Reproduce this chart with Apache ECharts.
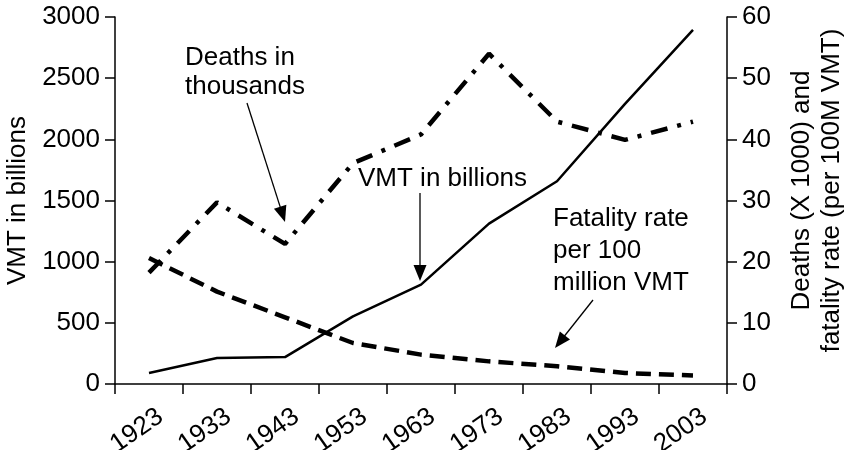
<!DOCTYPE html>
<html><head><meta charset="utf-8">
<script src="https://cdn.jsdelivr.net/npm/echarts@6/dist/echarts.min.js"></script>
<style>html,body{margin:0;padding:0;background:#fff}#c{width:849px;height:450px}</style>
</head><body><div id="c"></div>
<script>
// ---- data ----
const years = ['1923', '1933', '1943', '1953', '1963', '1973', '1983', '1993', '2003'];
const vmtBillions = [90, 212, 220, 553, 812, 1311, 1657, 2290, 2895];
const deathsThousands = [18.2, 29.7, 22.9, 36.1, 40.8, 54.0, 42.9, 39.9, 42.9];
const fatalityRate = [20.6, 15.1, 10.9, 6.7, 4.8, 3.7, 2.9, 1.8, 1.4];
const leftAxisName = 'VMT in billions';
const rightAxisName = 'Deaths (X 1000) and\nfatality rate (per 100M VMT)';
const noteDeaths = 'Deaths in\nthousands';
const noteVmt = 'VMT in billions';
const noteFatality = 'Fatality rate\nper 100\nmillion VMT';

const FONT = '"Liberation Sans", Arial, sans-serif';
const FS = 26;

function arrow(x1, y1, x2, y2) {
  const dx = x2 - x1, dy = y2 - y1, L = Math.hypot(dx, dy);
  const ux = dx / L, uy = dy / L, hl = 16, hw = 6.5;
  const bx = x2 - ux * hl, by = y2 - uy * hl;
  return [
    {type: 'line', silent: true, shape: {x1: x1, y1: y1, x2: bx + ux * 2, y2: by + uy * 2}, style: {stroke: '#000', lineWidth: 1.3}},
    {type: 'polygon', silent: true, shape: {points: [[x2, y2], [bx - uy * hw, by + ux * hw], [bx + uy * hw, by - ux * hw]]}, style: {fill: '#000'}}
  ];
}
function note(text, x, y, lh) {
  return {type: 'text', x: x, y: y, silent: true,
    style: {text: text, fill: '#000', fontSize: FS, fontFamily: FONT, lineHeight: lh, align: 'left', verticalAlign: 'top'}};
}
const plain = function (v) { return String(v); };

const chart = echarts.init(document.getElementById('c'), null, {renderer: 'canvas'});
const axisCommon = {
  axisLine: {show: true, lineStyle: {color: '#000', width: 1.5}},
  axisTick: {show: true, length: 10, lineStyle: {color: '#000', width: 1.5}},
  splitLine: {show: false}
};
chart.setOption({
  backgroundColor: '#fff',
  animation: false,
  textStyle: {fontFamily: FONT},
  grid: {left: 115, right: 122, top: 17, bottom: 66, containLabel: false, outerBoundsMode: 'none'},
  xAxis: Object.assign({}, axisCommon, {
    type: 'category', data: years, boundaryGap: true,
    axisTick: {show: true, length: 10, alignWithLabel: false, interval: 0, lineStyle: {color: '#000', width: 1.5}},
    axisLabel: {interval: 0, rotate: 35, margin: 38, padding: [0, -14, 0, 0], color: '#000', fontSize: FS, fontFamily: FONT}
  }),
  yAxis: [
    Object.assign({}, axisCommon, {
      type: 'value', min: 0, max: 3000, interval: 500, position: 'left',
      name: leftAxisName, nameLocation: 'middle', nameGap: 70, nameRotate: 90,
      nameTextStyle: {color: '#000', fontSize: FS, fontFamily: FONT, lineHeight: 26},
      axisLabel: {margin: 15, color: '#000', fontSize: FS, fontFamily: FONT, formatter: plain}
    }),
    Object.assign({}, axisCommon, {
      type: 'value', min: 0, max: 60, interval: 10, position: 'right',
      name: rightAxisName, nameLocation: 'middle', nameGap: 60, nameRotate: 90,
      nameTextStyle: {color: '#000', fontSize: FS, fontFamily: FONT, lineHeight: 30, padding: [0, 0, 0, 20]},
      axisLabel: {margin: 15, color: '#000', fontSize: FS, fontFamily: FONT, formatter: plain}
    })
  ],
  series: [
    {type: 'line', name: 'VMT', yAxisIndex: 0, data: vmtBillions, showSymbol: false, symbol: 'none',
      lineStyle: {color: '#000', width: 2.5, type: 'solid'}},
    {type: 'line', name: 'Deaths', yAxisIndex: 1, data: deathsThousands, showSymbol: false, symbol: 'none',
      lineStyle: {color: '#000', width: 4.5, type: [17, 10, 4, 10], cap: 'butt'}},
    {type: 'line', name: 'Fatality', yAxisIndex: 1, data: fatalityRate, showSymbol: false, symbol: 'none',
      lineStyle: {color: '#000', width: 4.5, type: [15, 8], cap: 'butt'}}
  ],
  graphic: [
    note(noteDeaths, 185, 43, 29),
    note(noteVmt, 358, 166, 26),
    note(noteFatality, 553, 203, 32)
  ].concat(arrow(247, 103, 285, 222), arrow(420, 193, 420, 281), arrow(593, 300, 555, 348))
});
</script></body></html>
